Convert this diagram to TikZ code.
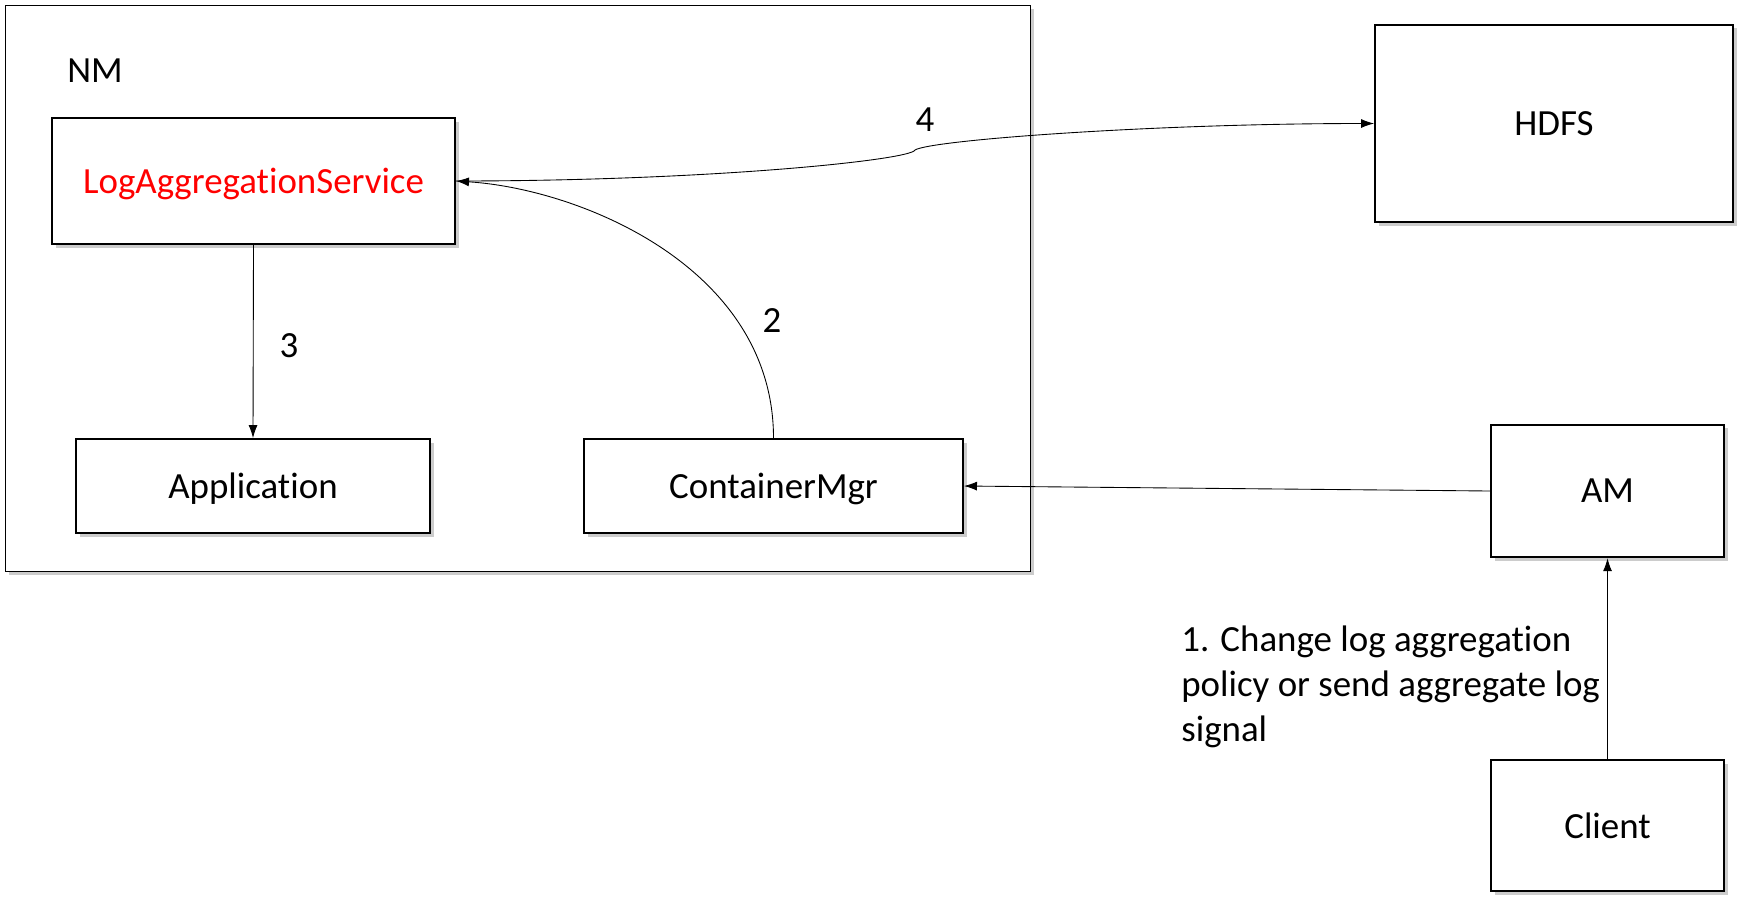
\documentclass[tikz,border=0pt]{standalone}
\usepackage{fontspec}
\setmainfont{Carlito}[Ligatures=NoCommon]
\usetikzlibrary{arrows.meta,shadows}
\begin{document}
\begin{tikzpicture}[
  boite/.style={draw,line width=1.1pt,fill=white,minimum height=1.88cm,text depth=0pt,
    drop shadow={shadow xshift=0.07cm,shadow yshift=-0.07cm,opacity=0.4},
    font=\fontsize{21}{25.5}\selectfont},
  fleche/.style={-{Latex[length=0.26cm,width=0.18cm]},line width=0.5pt},
  txt/.style={font=\fontsize{21}{25.5}\selectfont,inner sep=0pt}]
\useasboundingbox (0,0) rectangle (34.94,-18.12);
\node[boite,minimum width=20.5cm,minimum height=11.32cm] (nm) at (10.36,-5.77) {};
\node[txt] (nmlbl) at (1.9,-1.42) {NM};
\node[boite,minimum width=8.06cm,minimum height=2.52cm,text=red] (las) at (5.07,-3.62) {LogAggregationService};
\node[boite,minimum width=7.08cm] (app) at (5.06,-9.72) {Application};
\node[boite,minimum width=7.58cm] (cmgr) at (15.47,-9.72) {ContainerMgr};
\node[boite,minimum width=7.16cm,minimum height=3.95cm] (hdfs) at (31.08,-2.47) {HDFS};
\node[boite,minimum width=4.66cm,minimum height=2.65cm] (am) at (32.15,-9.82) {AM};
\node[boite,minimum width=4.66cm,minimum height=2.62cm] (client) at (32.15,-16.51) {Client};
% fleches
\draw[fleche] (las.south) -- (app.north);
\draw[fleche] (am.west) -- (cmgr.east);
\draw[fleche] (client.north) -- (am.south);
\draw[fleche] (cmgr.north) .. controls +(0,3.4) and +(2.5,-0.16) .. (las.east);
\coordinate (hop) at (18.28,-3.02);%petit crochet
\draw[fleche] (las.east) .. controls +(5,0) and +(-0.3,-0.2) .. (hop) .. controls +(0.05,0.2) and +(-4.5,0) .. (hdfs.west);
\node[txt] (n4) at (18.5,-2.4) {4};
\node[txt] (n2) at (15.44,-6.42) {2};
\node[txt] (n3) at (5.78,-6.92) {3};
\node[txt,align=left,anchor=west] (signal) at (23.62,-13.74) {1. Change log aggregation\\policy or send aggregate log\\signal};
\end{tikzpicture}
\end{document}
